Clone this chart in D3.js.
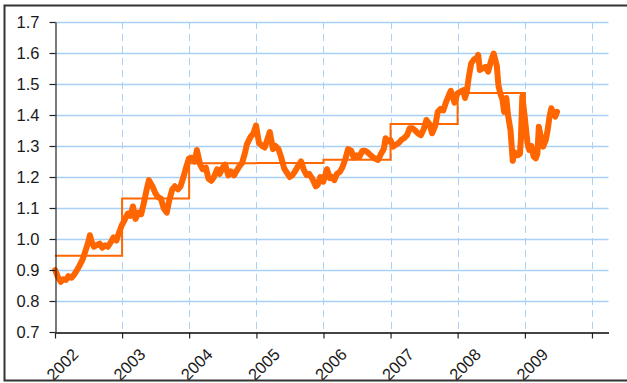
<!DOCTYPE html>
<html>
<head>
<meta charset="utf-8">
<script src="https://cdn.jsdelivr.net/npm/d3@7"></script>
<style>
  html, body { margin: 0; padding: 0; background: #fff; }
  svg { display: block; }
  text { font-family: "Liberation Sans", Arial, sans-serif; fill: #1a1a1a; }
</style>
</head>
<body>
<svg id="chart" width="627" height="383"></svg>
<script>
// Exchange rate, sampled roughly twice a month
const rateDates = [
  "2002-01-02","2002-01-15","2002-02-01","2002-02-15","2002-03-01","2002-03-15","2002-04-01","2002-04-15",
  "2002-05-01","2002-05-15","2002-06-01","2002-06-15","2002-07-01","2002-07-10","2002-07-20","2002-08-01",
  "2002-08-15","2002-09-01","2002-09-15","2002-10-01","2002-10-15","2002-11-01","2002-11-15","2002-12-01",
  "2002-12-15","2002-12-31",
  "2003-01-15","2003-02-01","2003-02-15","2003-03-01","2003-03-15","2003-04-01","2003-04-15","2003-05-01",
  "2003-05-15","2003-05-27","2003-06-15","2003-07-01","2003-07-15","2003-08-01","2003-08-15","2003-09-01",
  "2003-09-15","2003-10-01","2003-10-15","2003-11-01","2003-11-15","2003-12-01","2003-12-15","2003-12-31",
  "2004-01-15","2004-02-01","2004-02-12","2004-03-01","2004-03-15","2004-04-01","2004-04-15","2004-05-01",
  "2004-05-15","2004-06-01","2004-06-15","2004-07-01","2004-07-15","2004-08-01","2004-08-15","2004-09-01",
  "2004-09-15","2004-10-01","2004-10-15","2004-11-01","2004-11-10","2004-12-01","2004-12-15","2004-12-30",
  "2005-01-15","2005-02-01","2005-02-15","2005-03-01","2005-03-15","2005-04-01","2005-04-15","2005-05-01",
  "2005-05-15","2005-06-01","2005-06-15","2005-07-01","2005-07-15","2005-08-01","2005-08-15","2005-09-01",
  "2005-09-15","2005-10-01","2005-10-15","2005-11-01","2005-11-20","2005-12-01","2005-12-15","2005-12-31",
  "2006-01-20","2006-02-05","2006-02-15","2006-03-01","2006-03-15","2006-04-01","2006-04-15","2006-05-01",
  "2006-05-15","2006-06-01","2006-06-15","2006-07-01","2006-07-15","2006-08-01","2006-08-15","2006-09-01",
  "2006-09-15","2006-10-01","2006-10-25","2006-11-10","2006-11-25","2006-12-05","2006-12-15","2006-12-31",
  "2007-01-15","2007-02-01","2007-02-15","2007-03-01","2007-03-15","2007-04-01","2007-04-15","2007-05-01",
  "2007-05-15","2007-06-01","2007-06-15","2007-07-01","2007-07-15","2007-08-01","2007-08-15","2007-09-01",
  "2007-09-15","2007-10-01","2007-10-15","2007-11-01","2007-11-15","2007-11-25","2007-12-05","2007-12-15",
  "2007-12-31",
  "2008-01-15","2008-02-01","2008-02-10","2008-02-20","2008-03-01","2008-03-15","2008-04-01","2008-04-15",
  "2008-04-22","2008-05-01","2008-05-15","2008-06-01","2008-06-15","2008-07-01","2008-07-15","2008-08-01",
  "2008-08-10","2008-08-20","2008-09-01","2008-09-10","2008-09-22","2008-10-01","2008-10-15","2008-10-27",
  "2008-11-05","2008-11-15","2008-11-25","2008-12-05","2008-12-10","2008-12-18","2008-12-31",
  "2009-01-15","2009-01-25","2009-02-05","2009-02-18","2009-03-01","2009-03-10","2009-03-18","2009-04-01",
  "2009-04-10","2009-04-25","2009-05-05","2009-05-15","2009-05-25","2009-06-05","2009-06-15","2009-06-25"
];
const rateValues = [
  0.900,0.880,0.862,0.870,0.868,0.880,0.875,0.885,
  0.900,0.915,0.935,0.960,0.990,1.012,0.990,0.975,
  0.980,0.985,0.972,0.980,0.975,0.990,1.005,0.995,
  1.020,1.045,
  1.062,1.082,1.075,1.105,1.065,1.085,1.080,1.120,
  1.160,1.190,1.170,1.148,1.135,1.130,1.100,1.085,
  1.125,1.160,1.170,1.160,1.170,1.200,1.230,1.260,
  1.262,1.250,1.287,1.240,1.225,1.230,1.195,1.188,
  1.200,1.225,1.210,1.230,1.240,1.205,1.218,1.205,
  1.220,1.235,1.245,1.280,1.305,1.330,1.340,1.366,
  1.310,1.300,1.295,1.320,1.345,1.290,1.300,1.290,
  1.265,1.228,1.215,1.200,1.205,1.220,1.235,1.250,
  1.225,1.206,1.210,1.195,1.170,1.175,1.200,1.185,
  1.225,1.196,1.200,1.190,1.210,1.217,1.233,1.260,
  1.290,1.285,1.262,1.270,1.265,1.285,1.285,1.278,
  1.270,1.262,1.255,1.275,1.290,1.325,1.315,1.320,
  1.298,1.305,1.310,1.320,1.325,1.335,1.357,1.357,
  1.350,1.340,1.335,1.355,1.384,1.370,1.341,1.365,
  1.410,1.420,1.415,1.445,1.465,1.478,1.460,1.440,
  1.470,
  1.475,1.480,1.455,1.475,1.520,1.567,1.580,1.585,
  1.594,1.545,1.550,1.555,1.540,1.575,1.598,1.560,
  1.495,1.470,1.450,1.410,1.455,1.400,1.350,1.252,
  1.280,1.270,1.270,1.275,1.320,1.460,1.395,
  1.310,1.287,1.300,1.266,1.260,1.275,1.362,1.320,
  1.298,1.320,1.352,1.395,1.422,1.405,1.395,1.410
];

// Calendar-year averages, drawn as a step line
const avgYears  = ["2002","2003","2004","2005","2006","2007","2008","2009"];
const avgValues = [0.946, 1.131, 1.244, 1.245, 1.256, 1.371, 1.471, 1.330];

// Axis ticks
const yTicks = [0.7, 0.8, 0.9, 1.0, 1.1, 1.2, 1.3, 1.4, 1.5, 1.6, 1.7];
const yearTicks = ["2002","2003","2004","2005","2006","2007","2008","2009","2010"];
const yearLabels = ["2002","2003","2004","2005","2006","2007","2008","2009"];

const parseDay = d3.timeParse("%Y-%m-%d");
const parseYear = d3.timeParse("%Y");

const rates = rateDates.map((d, i) => ({ date: parseDay(d), value: rateValues[i] }));
const averages = avgYears.map((yr, i) => ({ date: parseYear(yr), value: avgValues[i] }));

const svg = d3.select("#chart");
const orange = "#ff6600";
const gridBlue = "#a9d0f5";

const plotLeft = 55, plotRight = 608.5, plotTop = 22, plotBottom = 332;

const x = d3.scaleTime()
  .domain([parseYear("2002"), parseDay("2010-04-01")])
  .range([plotLeft, plotRight]);
const y = d3.scaleLinear().domain([0.7, 1.7]).range([plotBottom, plotTop]);

// Horizontal grid
svg.append("g")
  .selectAll("line")
  .data(yTicks.slice(1))
  .join("line")
  .attr("x1", plotLeft).attr("x2", plotRight)
  .attr("y1", d => Math.round(y(d)) + 0.5)
  .attr("y2", d => Math.round(y(d)) + 0.5)
  .attr("stroke", gridBlue)
  .attr("stroke-width", 1.3);

// Vertical dashed grid at each year
svg.append("g")
  .selectAll("line")
  .data(yearTicks.slice(1).map(parseYear))
  .join("line")
  .attr("x1", d => Math.round(x(d)) + 0.5)
  .attr("x2", d => Math.round(x(d)) + 0.5)
  .attr("y1", plotTop).attr("y2", plotBottom)
  .attr("stroke", gridBlue)
  .attr("stroke-width", 1)
  .attr("stroke-dasharray", "7,5");

// Annual averages (step)
svg.append("path")
  .datum(averages)
  .attr("fill", "none")
  .attr("stroke", orange)
  .attr("stroke-width", 2)
  .attr("d", d3.line()
    .x(d => x(d.date))
    .y(d => y(d.value))
    .curve(d3.curveStepAfter));

// Daily rate
svg.append("path")
  .datum(rates)
  .attr("fill", "none")
  .attr("stroke", orange)
  .attr("stroke-width", 6)
  .attr("stroke-linejoin", "round")
  .attr("stroke-linecap", "round")
  .attr("d", d3.line()
    .x(d => x(d.date))
    .y(d => y(d.value)));

// Y axis
const yAxis = svg.append("g")
  .attr("transform", `translate(${plotLeft + 0.5},0)`)
  .call(d3.axisLeft(y).tickValues(yTicks).tickFormat(d3.format(".1f")).tickSize(6).tickSizeOuter(0).tickPadding(10));
yAxis.select(".domain").attr("stroke", "#222").attr("stroke-width", 1.2);
yAxis.selectAll(".tick line").attr("stroke", "#222").attr("stroke-width", 1.2);
yAxis.selectAll(".tick text").attr("font-size", 16.5).attr("fill", "#1a1a1a");

// X axis
const xAxis = svg.append("g")
  .attr("transform", `translate(0,${plotBottom + 0.5})`)
  .call(d3.axisBottom(x)
    .tickValues(yearTicks.map(parseYear))
    .tickFormat(d => {
      const s = d3.timeFormat("%Y")(d);
      return yearLabels.includes(s) ? s : "";
    })
    .tickSize(6).tickSizeOuter(0));
xAxis.select(".domain").attr("stroke", "#444").attr("stroke-width", 1.8);
xAxis.selectAll(".tick line").attr("stroke", "#222").attr("stroke-width", 1.2);
xAxis.selectAll(".tick text")
  .attr("font-size", 16.5)
  .attr("fill", "#1a1a1a")
  .attr("text-anchor", "middle")
  .attr("dy", null)
  .attr("y", null)
  .attr("transform", "translate(11,36) rotate(-45)");

// Outer frame
svg.append("path")
  .attr("d", "M640,5.5 H4.5 V380.5 H640")
  .attr("fill", "none")
  .attr("stroke", "#333")
  .attr("stroke-width", 2);
</script>
</body>
</html>
